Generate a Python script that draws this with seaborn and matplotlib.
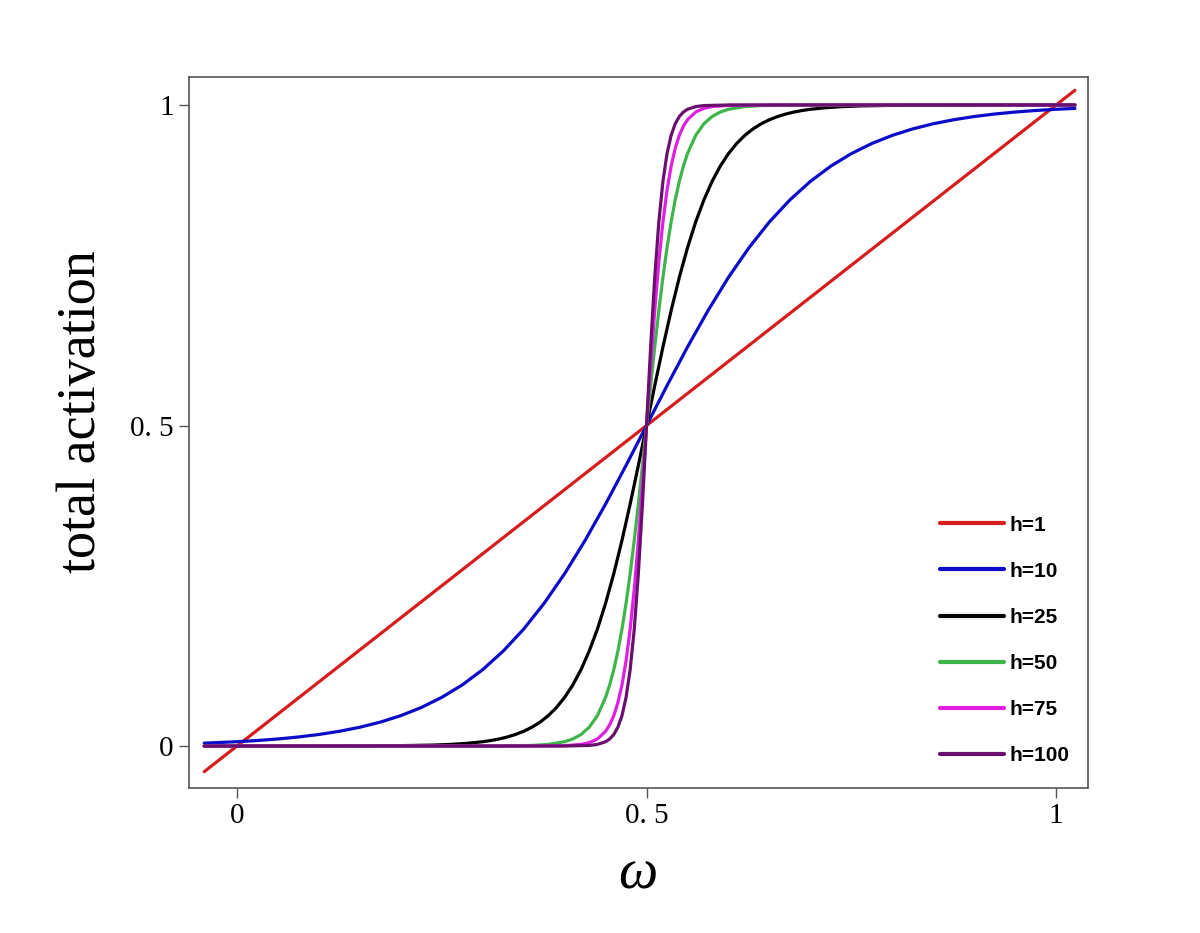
import pandas as pd
import seaborn as sns
import matplotlib.pyplot as plt

# curves: omega -> total activation
w_h1 = [-0.04, 1.023]
y_h1 = [-0.04, 1.023]

w_h10 = [-0.04, 0.0, 0.025, 0.05, 0.075, 0.10, 0.125, 0.15, 0.175, 0.20, 0.225, 0.25, 0.275,
         0.30, 0.325, 0.35, 0.375, 0.40, 0.425, 0.45, 0.475, 0.50,
         0.525, 0.55, 0.575, 0.60, 0.625, 0.65, 0.675, 0.70, 0.725, 0.75, 0.775,
         0.80, 0.825, 0.85, 0.875, 0.90, 0.925, 0.95, 0.975, 1.0, 1.023]
y_h10 = [0.0045, 0.0067, 0.0086, 0.0110, 0.0141, 0.0180, 0.0230, 0.0293, 0.0373, 0.0474, 0.0601, 0.0759, 0.0953,
         0.1192, 0.1481, 0.1824, 0.2227, 0.2689, 0.3208, 0.3775, 0.4378, 0.5,
         0.5622, 0.6225, 0.6792, 0.7311, 0.7773, 0.8176, 0.8519, 0.8808, 0.9047, 0.9241, 0.9399,
         0.9526, 0.9627, 0.9707, 0.9770, 0.9820, 0.9859, 0.9890, 0.9914, 0.9933, 0.9947]

w_h25 = [-0.04, 0.10, 0.20, 0.24, 0.26, 0.28, 0.30, 0.31, 0.32, 0.33, 0.34, 0.35, 0.36, 0.37, 0.38, 0.39,
         0.40, 0.41, 0.42, 0.43, 0.44, 0.45, 0.46, 0.47, 0.48, 0.49, 0.50,
         0.51, 0.52, 0.53, 0.54, 0.55, 0.56, 0.57, 0.58, 0.59, 0.60, 0.61, 0.62, 0.63, 0.64,
         0.65, 0.66, 0.67, 0.68, 0.69, 0.70, 0.72, 0.74, 0.76, 0.80, 0.90, 1.023]
y_h25 = [0.0, 0.0, 0.0006, 0.0015, 0.0025, 0.0041, 0.0067, 0.0086, 0.0110, 0.0141, 0.0180, 0.0230, 0.0293, 0.0373,
         0.0474, 0.0601, 0.0759, 0.0953, 0.1192, 0.1481, 0.1824, 0.2227, 0.2689, 0.3208, 0.3775, 0.4378, 0.5,
         0.5622, 0.6225, 0.6792, 0.7311, 0.7773, 0.8176, 0.8519, 0.8808, 0.9047, 0.9241, 0.9399, 0.9526, 0.9627,
         0.9707, 0.9770, 0.9820, 0.9859, 0.9890, 0.9914, 0.9933, 0.9959, 0.9975, 0.9985, 0.9994, 1.0, 1.0]

w_h50 = [-0.04, 0.30, 0.36, 0.38, 0.40, 0.41, 0.42, 0.43, 0.44, 0.45, 0.455, 0.46, 0.465, 0.47, 0.475,
         0.48, 0.485, 0.49, 0.495, 0.50, 0.505, 0.51, 0.515, 0.52, 0.525, 0.53, 0.535, 0.54, 0.545,
         0.55, 0.56, 0.57, 0.58, 0.59, 0.60, 0.62, 0.64, 0.70, 1.023]
y_h50 = [0.0, 0.0, 0.0009, 0.0025, 0.0067, 0.0110, 0.0180, 0.0293, 0.0474, 0.0759, 0.0953, 0.1192, 0.1481,
         0.1824, 0.2227, 0.2689, 0.3208, 0.3775, 0.4378, 0.5, 0.5622, 0.6225, 0.6792, 0.7311, 0.7773,
         0.8176, 0.8519, 0.8808, 0.9047, 0.9241, 0.9526, 0.9707, 0.9820, 0.9890, 0.9933, 0.9975, 0.9991,
         1.0, 1.0]

w_h75 = [-0.04, 0.35, 0.40, 0.42, 0.43, 0.44, 0.45, 0.455, 0.46, 0.465, 0.47, 0.475, 0.48, 0.485, 0.49, 0.495, 0.50,
         0.505, 0.51, 0.515, 0.52, 0.525, 0.53, 0.535, 0.54, 0.545, 0.55, 0.56, 0.57, 0.58, 0.60, 0.65, 1.023]
y_h75 = [0.0, 0.0, 0.0006, 0.0025, 0.0052, 0.0110, 0.0230, 0.0331, 0.0474, 0.0676, 0.0953, 0.1330, 0.1824, 0.2451,
         0.3208, 0.4073, 0.5, 0.5927, 0.6792, 0.7549, 0.8176, 0.8670, 0.9047, 0.9324, 0.9526, 0.9669, 0.9770,
         0.9890, 0.9948, 0.9975, 0.9994, 1.0, 1.0]

w_h100 = [-0.04, 0.40, 0.43, 0.44, 0.45, 0.455, 0.46, 0.465, 0.47, 0.475, 0.48, 0.485, 0.49, 0.495, 0.50,
          0.505, 0.51, 0.515, 0.52, 0.525, 0.53, 0.535, 0.54, 0.545, 0.55, 0.56, 0.57, 0.60, 1.023]
y_h100 = [0.0, 0.0, 0.0009, 0.0025, 0.0067, 0.0110, 0.0180, 0.0293, 0.0474, 0.0759, 0.1192, 0.1824, 0.2689, 0.3775, 0.5,
          0.6225, 0.7311, 0.8176, 0.8808, 0.9241, 0.9526, 0.9707, 0.9820, 0.9890, 0.9933, 0.9975, 0.9991, 1.0, 1.0]

labels = ['h=1', 'h=10', 'h=25', 'h=50', 'h=75', 'h=100']
colors = ['#d61c1c', '#0b0bc8', '#000000', '#3db54a', '#e020e0', '#6a0f70']
curves = [(w_h1, y_h1), (w_h10, y_h10), (w_h25, y_h25),
          (w_h50, y_h50), (w_h75, y_h75), (w_h100, y_h100)]

ticks = [0, 0.5, 1]
tick_labels = ['0', '0. 5', '1']

sns.set_theme(style='ticks')
plt.rcParams['font.family'] = ['Liberation Serif', 'DejaVu Serif']
plt.rcParams['text.color'] = 'black'
plt.rcParams['axes.labelcolor'] = 'black'

fig = plt.figure(figsize=(12, 9.33), dpi=100)
ax = fig.add_axes([0.1575, 0.1554, 0.7492, 0.7621])

for (w, y), lab, col in zip(curves, labels, colors):
    df = pd.DataFrame({'omega': w, 'act': y})
    sns.lineplot(data=df, x='omega', y='act', ax=ax, color=col, linewidth=2.3,
                 label=lab, sort=False, estimator=None)

ax.set_xlim(-0.0586, 1.039)
ax.set_ylim(-0.0655, 1.0437)
ax.set_xticks(ticks)
ax.set_xticklabels(tick_labels)
ax.set_yticks(ticks)
ax.set_yticklabels(tick_labels)
ax.tick_params(direction='out', length=7, width=1, color='#555555',
               labelcolor='black', labelsize=21, pad=4)

for s in ax.spines.values():
    s.set_color('#555555')
    s.set_linewidth(1.2)

ax.set_xlabel('ω', fontsize=40, style='italic')
ax.xaxis.set_label_coords(0.4994, -0.085)
ax.set_ylabel('total activation', fontsize=39)
ax.yaxis.set_label_coords(-0.091, 0.529)

leg = ax.legend(loc='upper left', bbox_to_anchor=(0.835, 0.383), frameon=False,
                borderpad=0, borderaxespad=0, handlelength=3.1, handletextpad=0.25,
                labelspacing=1.3, prop={'family': 'Liberation Sans', 'weight': 'bold', 'size': 15})
for line in leg.get_lines():
    line.set_linewidth(3)

fig.savefig('out.png', dpi=100)
